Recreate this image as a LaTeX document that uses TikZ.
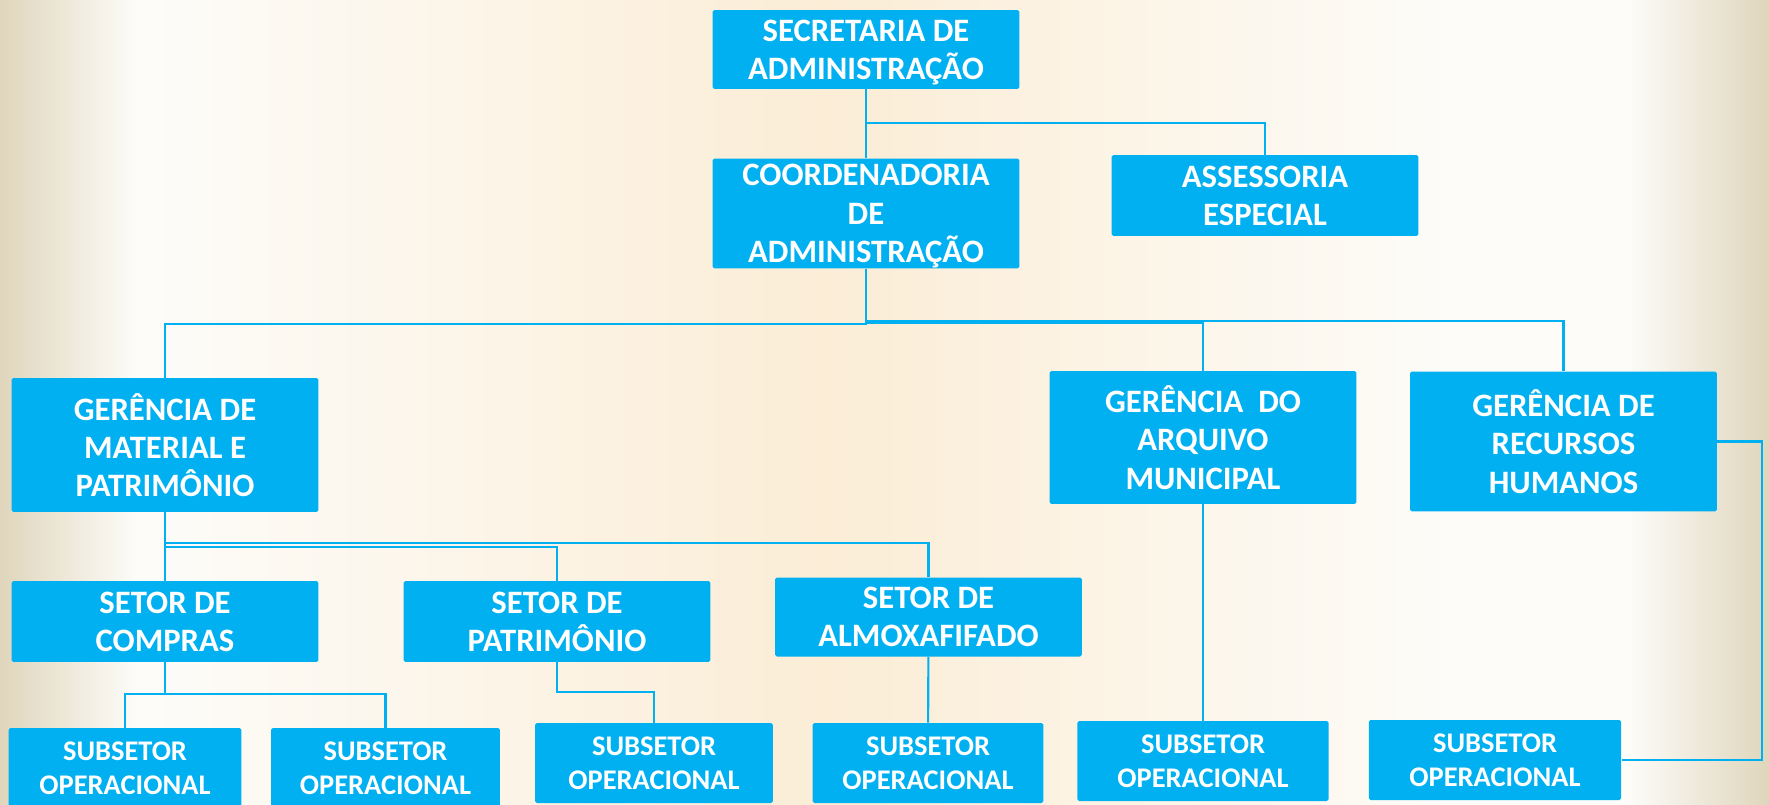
\documentclass[tikz,border=0pt]{standalone}
\usepackage{fontspec}
\setmainfont{Carlito}
\usepackage{tikz}
\usetikzlibrary{fadings}
\definecolor{azul}{HTML}{00B0F0}
\definecolor{fundo}{HTML}{FDFCF9}
\definecolor{pessego}{HTML}{FBEDD6}
\definecolor{borda}{HTML}{E0D6BC}
\tikzfading[name=someesq, left color=transparent!0, right color=transparent!100]
\tikzfading[name=somedir, left color=transparent!100, right color=transparent!0]

\begin{document}
\begin{tikzpicture}
	[x=0.02cm, y=-0.02cm,
	caixa/.style={fill=azul, rounded corners=1pt, inner sep=0pt, text=white,
		align=center, minimum width=6.14cm, text depth=0pt,
		font=\fontsize{18.6}{21.8}\selectfont\bfseries},
	subcaixa/.style={caixa, minimum height=1.6cm,
		font=\fontsize{16.2}{19.4}\selectfont\bfseries},
	linha/.style={draw=azul, line width=1.2pt}]
	\useasboundingbox (0,0) rectangle (1769,805);
	% fundo
	\fill[fundo] (0,0) rectangle (1769,805);
	\shade[left color=fundo, right color=pessego] (140,0) rectangle (830,805);
	\shade[left color=pessego, right color=fundo] (830,0) rectangle (1460,805);
	\fill[borda, path fading=someesq] (0,0) rectangle (135,805);
	\fill[borda, path fading=somedir] (1630,0) rectangle (1769,805);
	% caixas
	\node (secr) [caixa, minimum height=1.58cm] at (866,49.5) {SECRETARIA DE\\ADMINISTRAÇÃO};
	\node (coord) [caixa, minimum height=2.2cm] at (866,213.5) {COORDENADORIA\\DE\\ADMINISTRAÇÃO};
	\node (assess) [caixa, minimum height=1.62cm] at (1265,195.5) {ASSESSORIA\\ESPECIAL};
	\node (gmat) [caixa, minimum height=2.68cm] at (165,445) {GERÊNCIA DE\\MATERIAL E\\PATRIMÔNIO};
	\node (garq) [caixa, minimum height=2.66cm] at (1203,437.5) {GERÊNCIA~~DO\\ARQUIVO\\MUNICIPAL};
	\node (grh) [caixa, minimum height=2.8cm] at (1563.5,441.5) {GERÊNCIA DE\\RECURSOS\\HUMANOS};
	\node (scomp) [caixa, minimum height=1.62cm] at (165,621.5) {SETOR DE\\COMPRAS};
	\node (spat) [caixa, minimum height=1.62cm] at (557,621.5) {SETOR DE\\PATRIMÔNIO};
	\node (salmox) [caixa, minimum height=1.58cm] at (928.5,617) {SETOR DE\\ALMOXAFIFADO};
	\node (sub1) [subcaixa, minimum width=4.66cm, minimum height=1.62cm] at (125,768.5) {SUBSETOR\\OPERACIONAL};
	\node (sub2) [subcaixa, minimum width=4.58cm, minimum height=1.62cm] at (385.5,768.5) {SUBSETOR\\OPERACIONAL};
	\node (sub3) [subcaixa, minimum width=4.76cm] at (654,763) {SUBSETOR\\OPERACIONAL};
	\node (sub4) [subcaixa, minimum width=4.62cm] at (928,763) {SUBSETOR\\OPERACIONAL};
	\node (sub5) [subcaixa, minimum width=5.03cm] at (1203,761) {SUBSETOR\\OPERACIONAL};
	\node (sub6) [subcaixa, minimum width=5.05cm] at (1495,760) {SUBSETOR\\OPERACIONAL};
	% ligacoes
	\draw[linha] (secr) -- (coord);
	\draw[linha] (secr.south) -- ++(0,33.5) -| (assess.north);
	\draw[linha] (coord.south) -- ++(0,55) -| (gmat.north);
	\draw[linha] (coord.south) -- ++(0,54) -| (garq.north);
	\draw[linha] (coord.south) -- ++(0,52) -| (grh.north);
	\draw[linha] (grh.east) -- ++(45,0) |- (sub6.east);
	\draw[linha] (garq) -- (sub5);
	\draw[linha] (gmat) -- (scomp);
	\draw[linha] (gmat.south) -- ++(0,31) -| (salmox.north);
	\draw[linha] (gmat.south) -- ++(0,35) -| (spat.north);
	\draw[linha] (scomp.south) -- ++(0,32) -| (sub1.north);
	\draw[linha] (scomp.south) -- ++(0,32) -| (sub2.north);
	\draw[linha] (spat.south) -- ++(0,30) -| (sub3.north);
	\draw[linha] (salmox) -- (sub4);
\end{tikzpicture}
\end{document}
